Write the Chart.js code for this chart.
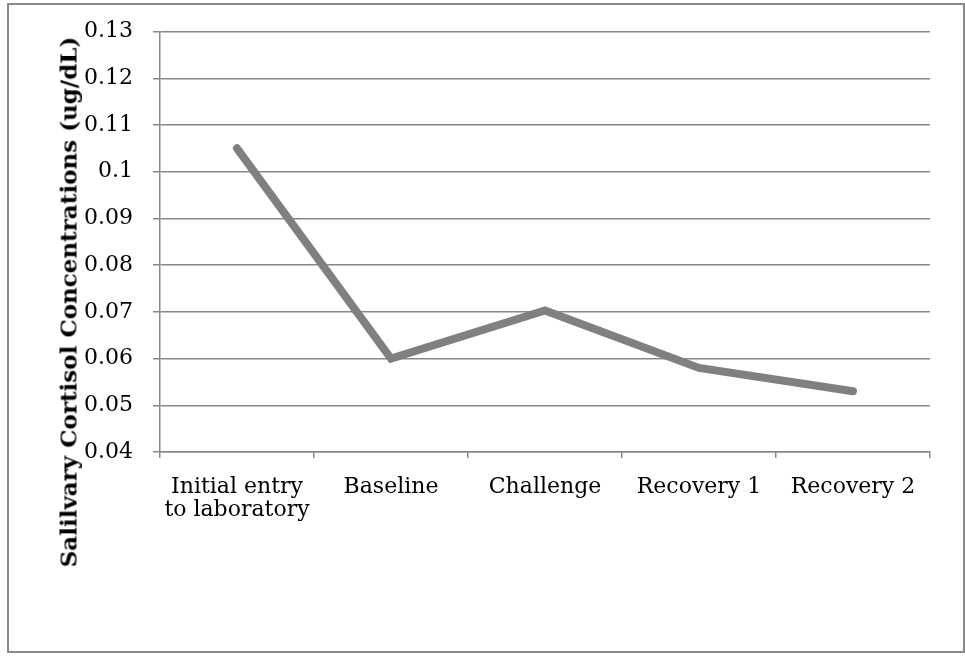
<!DOCTYPE html>
<html>
<head>
<meta charset="utf-8">
<title>Salivary Cortisol</title>
<script src="https://cdn.jsdelivr.net/npm/chart.js"></script>
<style>
  body { margin: 0; background: #fff; }
  .frame {
    position: absolute;
    left: 7px; top: 3px;
    width: 954px; height: 646px;
    border: 2px solid #898989;
  }
  #chart { position: absolute; left: 0; top: 0; }
  .ytitle {
    position: absolute;
    left: 68px; top: 302px;
    transform: translate(-50%, -50%) rotate(-90deg);
    white-space: nowrap;
    font-family: "DejaVu Serif", serif;
    font-weight: bold;
    font-size: 23px;
    color: #000;
  }
</style>
</head>
<body>
<div class="frame"></div>
<canvas id="chart" width="965" height="656"></canvas>
<div class="ytitle">Salilvary Cortisol Concentrations (ug/dL)</div>
<script>
// Data
const categories = [
  ['Initial entry', 'to laboratory'],
  'Baseline',
  'Challenge',
  'Recovery 1',
  'Recovery 2'
];
const cortisol = [0.105, 0.060, 0.0703, 0.058, 0.053];
const yTickLabels = ['0.04', '0.05', '0.06', '0.07', '0.08', '0.09', '0.1', '0.11', '0.12', '0.13'];

const gridColor = '#878787';
const tickFont = { family: 'DejaVu Serif', size: 22, lineHeight: 1.05 };

new Chart(document.getElementById('chart').getContext('2d'), {
  type: 'line',
  data: {
    labels: categories,
    datasets: [{
      data: cortisol,
      borderColor: '#808080',
      borderWidth: 8,
      borderCapStyle: 'round',
      borderJoinStyle: 'miter',
      pointRadius: 0,
      tension: 0,
      fill: false
    }]
  },
  options: {
    responsive: false,
    animation: false,
    layout: { padding: { left: 0, right: 35, top: 31, bottom: 0 } },
    plugins: { legend: { display: false }, tooltip: { enabled: false } },
    scales: {
      x: {
        offset: true,
        grid: {
          offset: true,
          drawOnChartArea: false,
          drawTicks: true,
          tickLength: 6,
          color: gridColor,
          lineWidth: 1.5
        },
        border: { color: gridColor, width: 1.5 },
        ticks: { color: '#000', font: tickFont, padding: 18, maxRotation: 0, autoSkip: false },
        afterFit: (axis) => { axis.height = 204; }
      },
      y: {
        min: 0.04,
        max: 0.13,
        grid: { color: gridColor, lineWidth: 1.5, tickLength: 7 },
        border: { color: gridColor, width: 1.5 },
        ticks: {
          stepSize: 0.01,
          color: '#000',
          font: tickFont,
          padding: 20,
          callback: (v, i) => yTickLabels[i]
        },
        afterFit: (axis) => { axis.width = 160; }
      }
    }
  }
});
</script>
</body>
</html>
